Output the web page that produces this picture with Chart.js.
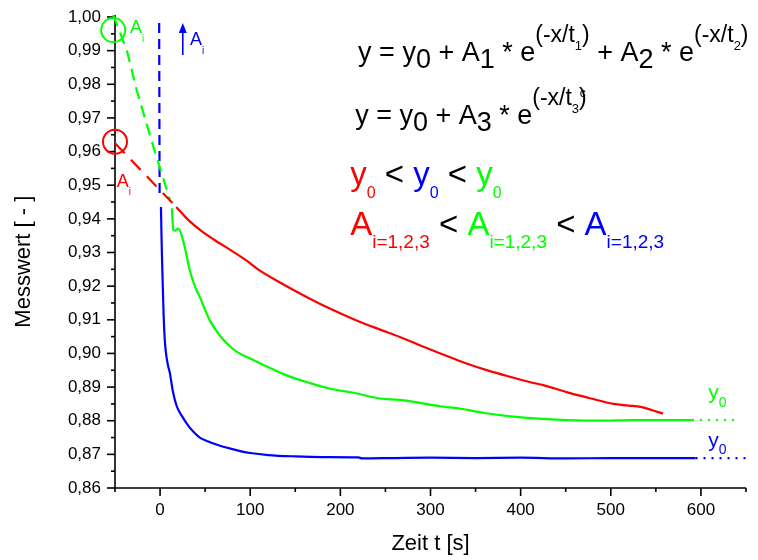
<!DOCTYPE html>
<html>
<head>
<meta charset="utf-8">
<script src="https://cdn.jsdelivr.net/npm/chart.js@4.4.1/dist/chart.umd.min.js"></script>
<style>
  html, body { margin: 0; padding: 0; background: #fff; }
</style>
</head>
<body>
<canvas id="chart" width="758" height="560"></canvas>
<script>
const FONT = '"Liberation Sans", Arial, sans-serif';

// Zeit t [s] / Messwert [-]
const redFitT = [-50, 18];
const redFitY = [0.9625, 0.9435];
const redT = [18, 30, 45, 60, 80, 100, 107, 135, 163, 190, 218, 245, 266, 290, 311, 340, 365, 389, 410, 426, 451, 478, 503, 520, 533, 545, 558];
const redY = [0.9435, 0.9400, 0.9366, 0.9338, 0.9304, 0.9268, 0.9253, 0.9208, 0.9167, 0.9131, 0.9098, 0.9070, 0.9049, 0.9022, 0.9000, 0.8970, 0.8948, 0.8930, 0.8915, 0.8905, 0.8885, 0.8866, 0.8850, 0.8845, 0.8841, 0.8832, 0.8821];

const greenFitT = [-52, -37, -26, -7.4, 11];
const greenFitY = [1.0006, 0.9902, 0.9783, 0.9614, 0.9456];
const greenT = [13, 14.8, 17, 20.3, 26, 33, 38, 44, 55, 66, 78, 88, 100, 120, 144, 165, 189, 215, 244, 266, 311, 333, 360, 389, 420, 451, 488, 525, 560, 590];
const greenY = [0.9431, 0.9367, 0.9365, 0.9371, 0.9331, 0.9247, 0.9204, 0.9168, 0.9099, 0.9054, 0.9020, 0.9000, 0.8985, 0.8959, 0.8931, 0.8913, 0.8895, 0.8883, 0.8866, 0.8862, 0.8843, 0.8836, 0.8823, 0.8813, 0.8806, 0.8802, 0.8800, 0.8802, 0.8802, 0.8802];
const greenY0T = [590, 638];
const greenY0 = [0.8802, 0.8802];

const blueFitT = [-1, -0.5];
const blueFitY = [0.9982, 0.9468];
const blueT = [1, 1.5, 2, 3, 4, 5.5, 7.4, 9, 11, 14, 18.5, 24, 30, 37, 44, 52, 65, 78, 90, 100, 120, 150, 180, 220, 224, 260, 300, 350, 400, 450, 500, 550, 594];
const blueY = [0.9435, 0.9360, 0.9300, 0.9200, 0.9110, 0.9030, 0.8985, 0.8962, 0.8940, 0.8890, 0.8843, 0.8815, 0.8790, 0.8767, 0.8750, 0.8740, 0.8727, 0.8717, 0.8709, 0.8704, 0.8698, 0.8694, 0.8692, 0.8691, 0.8688, 0.8689, 0.8690, 0.8689, 0.8690, 0.8688, 0.8689, 0.8689, 0.8689];
const blueY0T = [594, 650];
const blueY0 = [0.8689, 0.8689];

const RED = '#ff0000', GREEN = '#00ff00', BLUE = '#0000ff';

function pts(ts, ys) { return ts.map((t, i) => ({ x: t, y: ys[i] })); }

function line(data, color, dash) {
  return {
    data: data, borderColor: color, borderWidth: 2.2, borderDash: dash || [],
    pointRadius: 0, fill: false, clip: false,
    cubicInterpolationMode: dash ? 'default' : 'monotone', tension: 0
  };
}

function rich(ctx, px, py, runs) {
  let cx = px;
  runs.forEach(r => {
    ctx.font = r[1] + 'px ' + FONT;
    ctx.fillStyle = r[3] || '#000';
    const dx = r[4] || 0;
    ctx.fillText(r[0], cx + dx, py + (r[2] || 0));
    cx += ctx.measureText(r[0]).width + dx;
  });
}

const axesPlugin = {
  id: 'axesPlugin',
  beforeDatasetsDraw(chart) {
    const { ctx, scales: { x, y }, chartArea: a } = chart;
    ctx.save();
    ctx.strokeStyle = '#000';
    ctx.lineWidth = 1.6;
    ctx.beginPath();
    ctx.moveTo(a.left, a.top - 2);
    ctx.lineTo(a.left, a.bottom);
    ctx.lineTo(a.right, a.bottom);
    ctx.stroke();
    for (let v = -50; v <= 650; v += 50) {
      const px = x.getPixelForValue(v);
      const len = v % 100 === 0 ? 8 : 4;
      ctx.beginPath();
      ctx.moveTo(px, a.bottom);
      ctx.lineTo(px, a.bottom + len);
      ctx.stroke();
    }
    for (let k = 0; k <= 28; k++) {
      const v = 0.86 + k * 0.005;
      const py = y.getPixelForValue(v);
      const len = k % 2 === 0 ? 8 : 4;
      ctx.beginPath();
      ctx.moveTo(a.left, py);
      ctx.lineTo(a.left - len, py);
      ctx.stroke();
    }
    ctx.restore();
  }
};

const annotPlugin = {
  id: 'annotPlugin',
  afterDatasetsDraw(chart) {
    const { ctx, scales: { x, y } } = chart;
    const X = v => x.getPixelForValue(v), Y = v => y.getPixelForValue(v);
    ctx.save();
    ctx.textBaseline = 'alphabetic';

    // circles around intercepts
    ctx.lineWidth = 2;
    ctx.strokeStyle = GREEN;
    ctx.beginPath(); ctx.arc(X(-52), Y(0.9961), 12, 0, Math.PI * 2); ctx.stroke();
    ctx.strokeStyle = RED;
    ctx.beginPath(); ctx.arc(X(-50), Y(0.9629), 12, 0, Math.PI * 2); ctx.stroke();

    // blue arrow
    const ax = X(25.2), ay0 = Y(0.9887), ay1 = Y(0.9982);
    ctx.strokeStyle = BLUE; ctx.fillStyle = BLUE; ctx.lineWidth = 1.6;
    ctx.beginPath(); ctx.moveTo(ax, ay0); ctx.lineTo(ax, ay1 + 8); ctx.stroke();
    ctx.beginPath(); ctx.moveTo(ax, ay1); ctx.lineTo(ax - 4, ay1 + 10); ctx.lineTo(ax + 4, ay1 + 10); ctx.closePath(); ctx.fill();

    rich(ctx, X(-33.3), Y(0.9952), [['A', 18, 0, GREEN], ['i', 10, 9, GREEN]]);
    rich(ctx, X(-48), Y(0.9494), [['A', 18, 0, RED], ['i', 10, 8, RED]]);
    rich(ctx, X(33.3), Y(0.9917), [['A', 18, 0, BLUE], ['i', 10, 9, BLUE]]);

    rich(ctx, X(608), Y(0.8864), [['y', 21, 0, GREEN], ['0', 14, 8, GREEN]]);
    rich(ctx, X(608), Y(0.8722), [['y', 21, 0, BLUE], ['0', 14, 7, BLUE]]);

    // formulas
    const F = 27, S = 23, s = 13, up = -19, dn = 7;
    rich(ctx, X(219.7), Y(0.9869), [
      ['y = y', F], ['0', F, dn], [' + A', F], ['1', F, dn], [' * e', F],
      ['(-x/t', S, up], ['1', s, up + 8], [')', S, up],
      [' + A', F], ['2', F, dn], [' * e', F],
      ['(-x/t', S, up], ['2', s, up + 8], [')', S, up]
    ]);
    rich(ctx, X(216.4), Y(0.9682), [
      ['y = y', F], ['0', F, dn], [' + A', F], ['3', F, dn], [' * e', F],
      ['(-x/t', S, up], ['3', s, up + 8], [')', S, up], ['c', 12, up - 8, '#000', -7]
    ]);
    const B = 33, sb = 16, sa = 19;
    rich(ctx, X(210.9), Y(0.9501), [
      ['y', B, 0, RED], ['0', sb, 13, RED], [' < ', B], ['y', B, 0, BLUE], ['0', sb, 13, BLUE],
      [' < ', B], ['y', B, 0, GREEN], ['0', sb, 13, GREEN]
    ]);
    rich(ctx, X(210.9), Y(0.9352), [
      ['A', B, 0, RED], ['i=1,2,3', sa, 13, RED], [' < ', B],
      ['A', B, 0, GREEN], ['i=1,2,3', sa, 13, GREEN], [' < ', B],
      ['A', B, 0, BLUE], ['i=1,2,3', sa, 13, BLUE]
    ]);
    ctx.restore();
  }
};

function isMajorY(v) { return Math.abs(v * 100 - Math.round(v * 100)) < 1e-6; }

new Chart(document.getElementById('chart').getContext('2d'), {
  type: 'line',
  data: {
    datasets: [
      line(pts(redFitT, redFitY), RED, [14, 9]),
      line(pts(redT, redY), RED),
      line(pts(greenFitT, greenFitY), GREEN, [12, 7]),
      line(pts(greenT, greenY), GREEN),
      line(pts(greenY0T, greenY0), GREEN, [2, 6]),
      line(pts(blueFitT, blueFitY), BLUE, [10, 6]),
      line(pts(blueT, blueY), BLUE),
      line(pts(blueY0T, blueY0), BLUE, [2, 6])
    ]
  },
  options: {
    responsive: false,
    devicePixelRatio: 1,
    animation: false,
    layout: { padding: { left: 0, right: 12, top: 17, bottom: 0 } },
    plugins: { legend: { display: false }, tooltip: { enabled: false } },
    scales: {
      x: {
        type: 'linear', min: -50, max: 650,
        afterFit: s => { s.height = 72; },
        grid: { drawOnChartArea: false, color: 'rgba(0,0,0,0)', tickLength: 8 },
        border: { display: false },
        ticks: {
          stepSize: 50, autoSkip: false, maxRotation: 0, padding: 4, color: '#000',
          font: { family: FONT, size: 17 },
          callback: v => (v % 100 === 0 && v >= 0 && v <= 600) ? String(v) : ''
        },
        title: {
          display: true, text: 'Zeit t [s]', color: '#000',
          font: { family: FONT, size: 22, lineHeight: 1 }, padding: { top: 0, bottom: 5 }
        }
      },
      y: {
        type: 'linear', min: 0.86, max: 1.0,
        afterFit: s => { s.width = 115; },
        grid: { drawOnChartArea: false, color: 'rgba(0,0,0,0)', tickLength: 8 },
        border: { display: false },
        ticks: {
          stepSize: 0.005, autoSkip: false, padding: 6, color: '#000',
          font: { family: FONT, size: 17 },
          callback: v => isMajorY(v) ? v.toFixed(2).replace('.', ',') : ''
        },
        title: {
          display: true, text: 'Messwert [ - ]   ', color: '#000',
          font: { family: FONT, size: 22, lineHeight: 1 }, padding: { top: 13, bottom: 0 }
        }
      }
    }
  },
  plugins: [axesPlugin, annotPlugin]
});
</script>
</body>
</html>
